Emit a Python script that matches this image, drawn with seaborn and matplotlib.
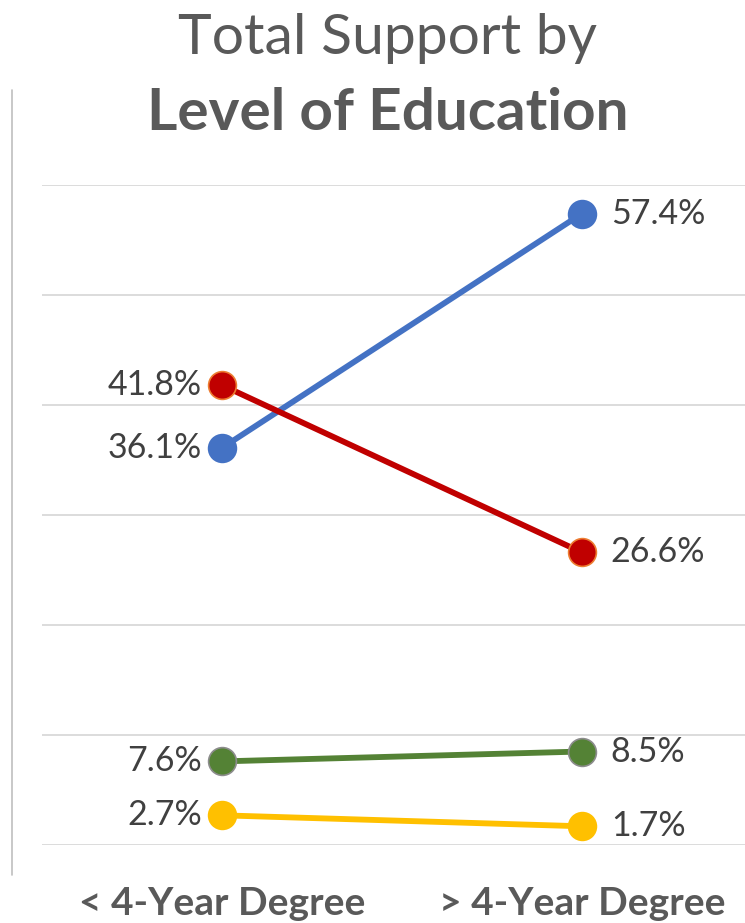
import numpy as np
import pandas as pd
import matplotlib
matplotlib.use('Agg')
import matplotlib.pyplot as plt
import seaborn as sns

categories = ['< 4-Year Degree', '> 4-Year Degree']
blue_vals = [36.1, 57.4]
red_vals = [41.8, 26.6]
green_vals = [7.6, 8.5]
yellow_vals = [2.7, 1.7]

series = [
    ('blue', blue_vals, '#4472C4', '#4472C4'),
    ('red', red_vals, '#C00000', '#ED7D31'),
    ('green', green_vals, '#548235', '#8C8C8C'),
    ('yellow', yellow_vals, '#FFC000', '#FFC000'),
]

sns.set_style('white')
plt.rcParams['font.family'] = ['Lato', 'DejaVu Sans']

fig = plt.figure(figsize=(7.45, 9.23), dpi=100)
ax = fig.add_axes([42 / 745, 78 / 923, 703 / 745, 660 / 923])

for name, vals, col, edge in series:
    df = pd.DataFrame({'x': [0, 1], 'y': vals})
    sns.lineplot(data=df, x='x', y='y', color=col, linewidth=4.2, marker='o',
                 markersize=20, markeredgecolor=edge, markeredgewidth=1.2, ax=ax)
    ax.text(-0.055, vals[0], f'{vals[0]:.1f}%', ha='right', va='center',
            fontsize=24.5, color='#404040')
    ax.text(1.08, vals[1], f'{vals[1]:.1f}%', ha='left', va='center',
            fontsize=24.5, color='#404040')

ax.set_xlim(-0.5, 1.453)
ax.set_ylim(0, 60)
ax.set_yticks(np.arange(0, 61, 10))
ax.yaxis.grid(True, color='#D9D9D9', linewidth=1.3)
ax.set_axisbelow(True)
ax.tick_params(axis='y', left=False, labelleft=False)
ax.set_xticks([0, 1])
ax.set_xticklabels(categories, fontsize=28, fontweight='bold', color='#595959')
ax.tick_params(axis='x', bottom=False, pad=26)
ax.set_xlabel('')
ax.set_ylabel('')
for s in ax.spines.values():
    s.set_visible(False)

# left border line
fig.add_artist(plt.Line2D([12 / 745, 12 / 745], [48 / 923, 833 / 923],
                          color='#BFBFBF', linewidth=1.2))

fig.text(0.52, 1 - 38 / 923, 'Total Support by', ha='center', va='center',
         fontsize=41, fontweight='normal', color='#595959')
fig.text(0.52, 1 - 114 / 923, 'Level of Education', ha='center', va='center',
         fontsize=42, fontweight='bold', color='#595959')

fig.savefig('out.png', dpi=100)
